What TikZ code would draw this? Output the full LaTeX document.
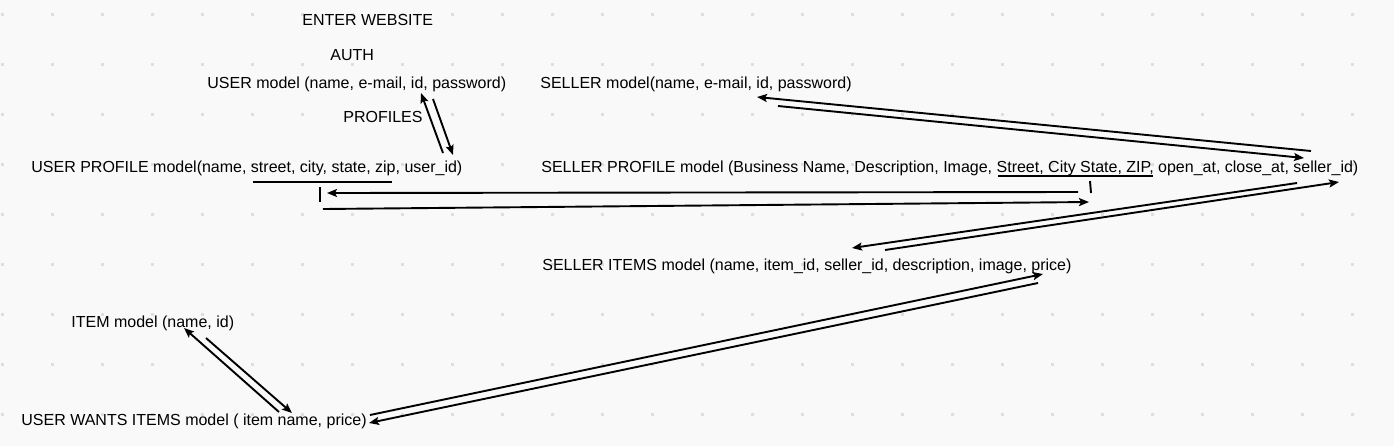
\documentclass[tikz,border=0pt]{standalone}
\usepackage{fontspec}
\setmainfont{Liberation Sans}
\usetikzlibrary{arrows.meta}
\definecolor{paper}{HTML}{F9F9F9}
\definecolor{griddot}{HTML}{DEDEDE}

\begin{document}
\begin{tikzpicture}[x=0.5pt, y=-0.5pt, font=\fontsize{8}{9.6}\selectfont,
        lbl/.style={anchor=base west, inner sep=0pt},
        link/.style={line width=0.95pt, -{Stealth[length=5pt, width=4pt, inset=1pt]}},
        rule/.style={line width=0.95pt}]
        \fill[paper] (0, 0) rectangle (1394, 446);
        \useasboundingbox (0, 0) rectangle (1394, 446);
        \foreach \i in {0,...,27}
            \foreach \j in {0,...,8}
                \fill[griddot] (1+50*\i, 13+50*\j) rectangle ++(3, 3);
        % models
        \node[lbl] (enter) at (302, 25) {ENTER WEBSITE};
        \node[lbl] (auth) at (330, 60) {AUTH};
        \node[lbl] (user) at (207, 88) {USER model (name, e-mail, id, password)};
        \node[lbl] (profiles) at (343, 122) {PROFILES};
        \node[lbl] (userprof) at (31, 172) {USER PROFILE model(name, street, city, state, zip, user\_id)};
        \node[lbl] (seller) at (540, 88) {SELLER model(name, e-mail, id, password)};
        \node[lbl] (sellerprof) at (541, 172) {SELLER PROFILE model (Business Name, Description, Image, Street, City State, ZIP, open\_at, close\_at, seller\_id)};
        \node[lbl] (selleritems) at (542, 270) {SELLER ITEMS model (name, item\_id, seller\_id, description, image, price)};
        \node[lbl] (item) at (71, 327) {ITEM model (name, id)};
        \node[lbl] (wants) at (21, 425) {USER WANTS ITEMS model ( item name, price)};
        % end points
        \coordinate (userin) at (421, 93);
        \coordinate (userout) at (433, 99);
        \coordinate (upin) at (453, 155);
        \coordinate (upout) at (443, 153);
        \coordinate (upleft) at (327, 193);
        \coordinate (upright) at (323, 209);
        \coordinate (spleft) at (1078, 192);
        \coordinate (spright) at (1089, 202);
        \coordinate (sellerin) at (757, 97);
        \coordinate (sellerout) at (778, 106);
        \coordinate (sptop) at (1304, 158);
        \coordinate (sptopout) at (1311, 151);
        \coordinate (spbot) at (1339, 182);
        \coordinate (spbotout) at (1297, 183);
        \coordinate (siin) at (852, 248);
        \coordinate (siout) at (885, 250);
        \coordinate (siprice) at (1043, 274);
        \coordinate (sipriceout) at (1038, 283);
        \coordinate (wantsin) at (369, 423);
        \coordinate (wantsout) at (370, 415);
        \coordinate (wantsup) at (279, 412);
        \coordinate (wantsdown) at (292, 413);
        \coordinate (itemin) at (184, 328);
        \coordinate (itemout) at (206, 338);
        % links
        \draw[link] (upout) -- (userin);
        \draw[link] (userout) -- (upin);
        \draw[rule] (253, 182) -- (392, 182);
        \draw[rule] (320, 187) -- (320, 202);
        \draw[link] (spleft) -- (upleft);
        \draw[link] (upright) -- (spright);
        \draw[rule] (998, 176) -- (1153, 176);
        \draw[rule] (1090, 181) -- (1091, 193);
        \draw[link] (sptopout) -- (sellerin);
        \draw[link] (sellerout) -- (sptop);
        \draw[link] (spbotout) -- (siin);
        \draw[link] (siout) -- (spbot);
        \draw[link] (wantsout) -- (siprice);
        \draw[link] (sipriceout) -- (wantsin);
        \draw[link] (wantsup) -- (itemin);
        \draw[link] (itemout) -- (wantsdown);
\end{tikzpicture}
\end{document}
